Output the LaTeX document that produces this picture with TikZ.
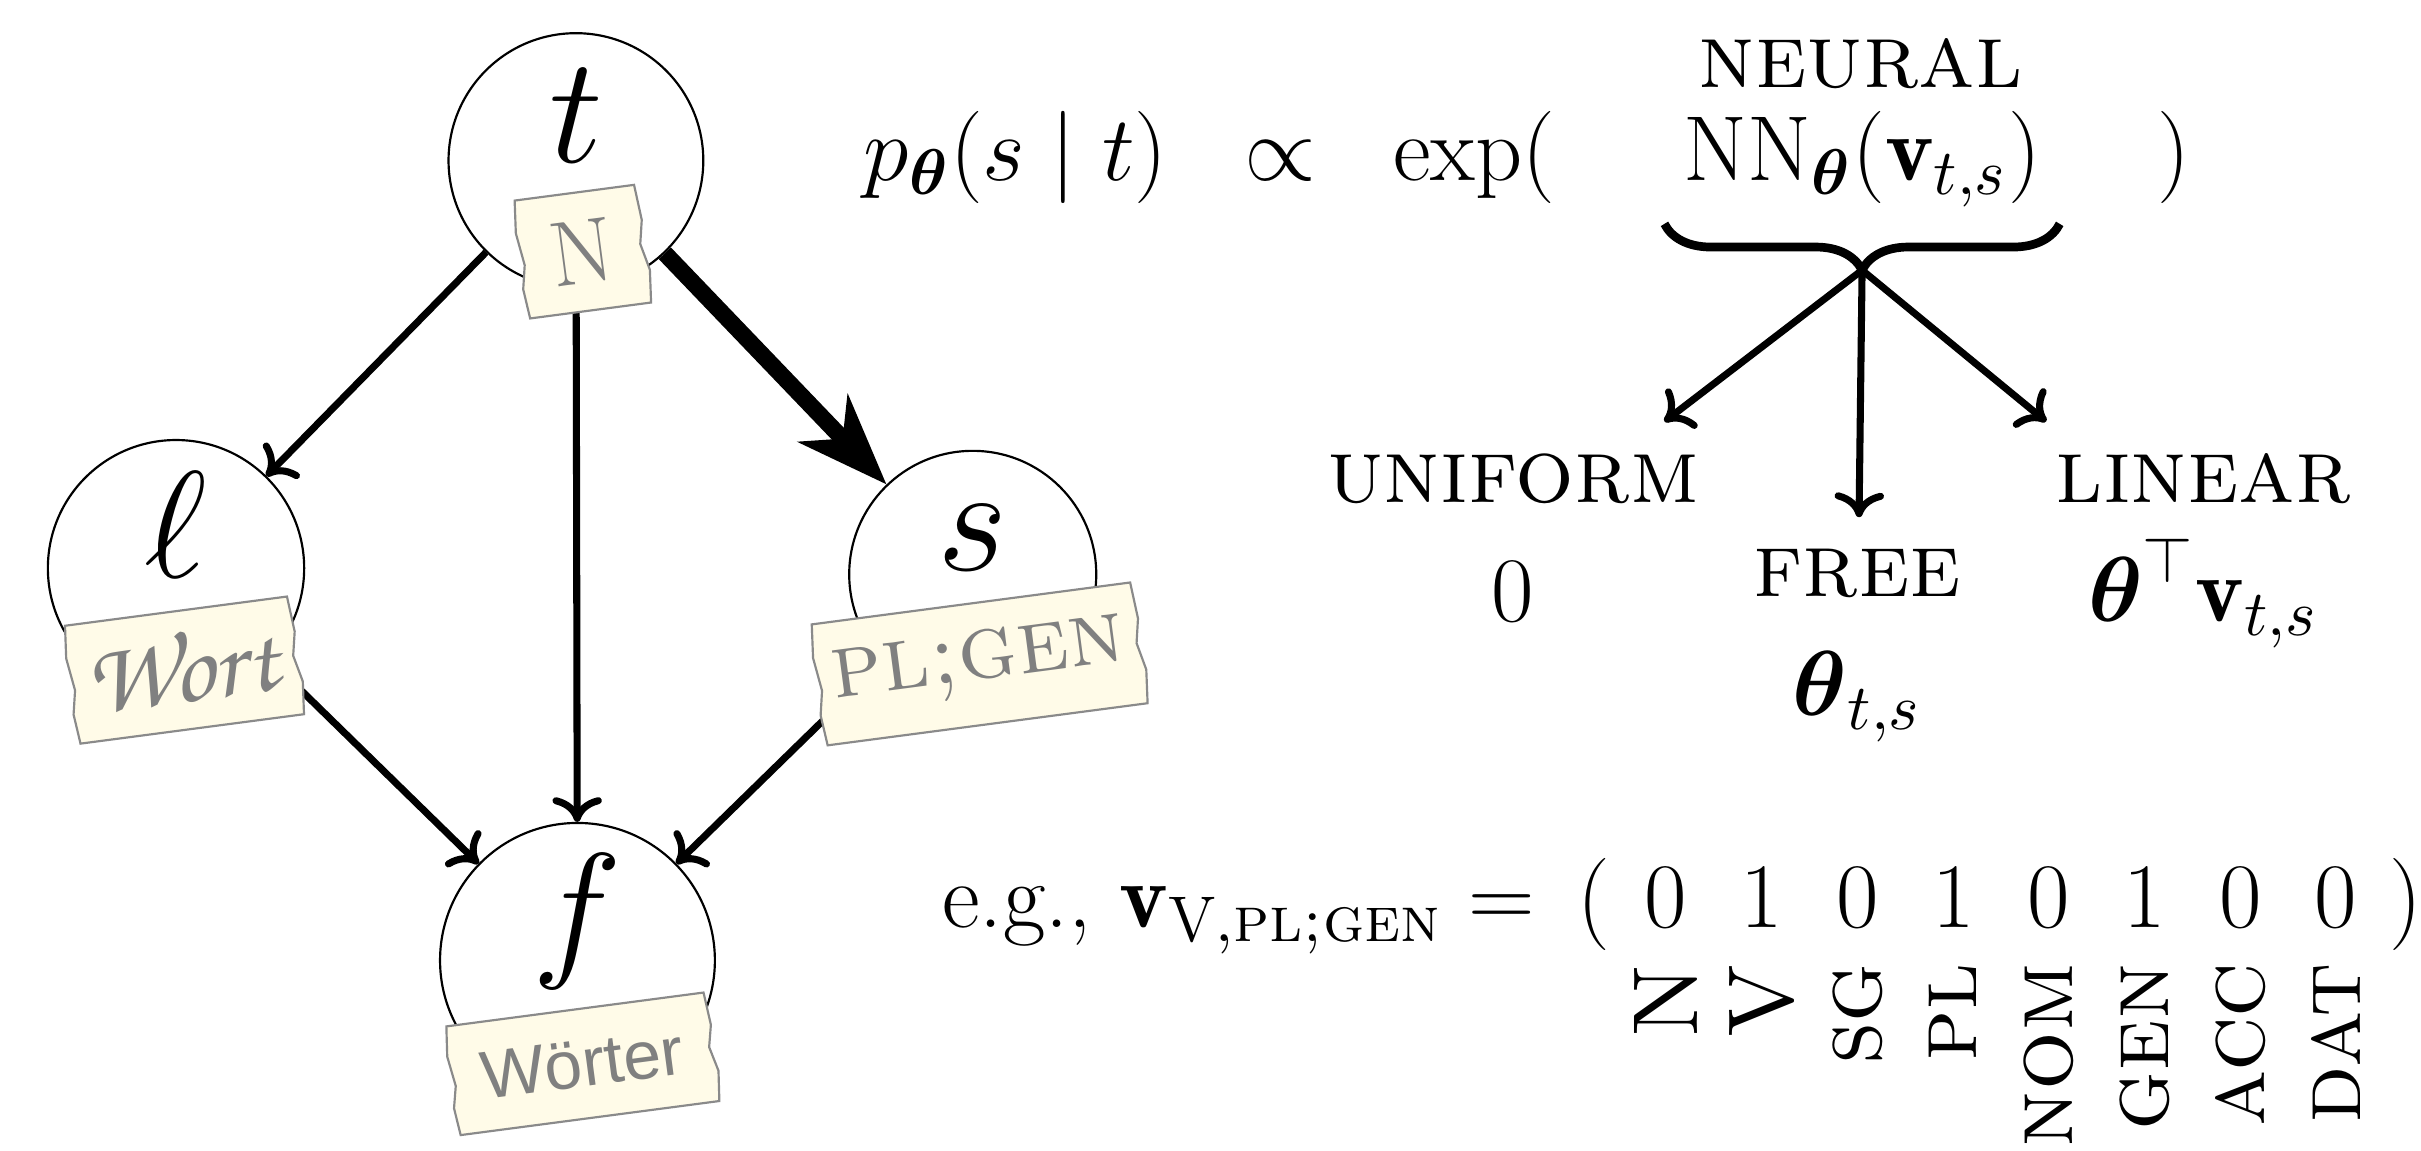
\RequirePackage{fix-cm}
\documentclass[tikz,border=0pt]{standalone}
\usepackage{amsmath}
\usepackage{fontspec}
\newfontfamily\wsans{Liberation Sans}
\newcommand\handfont{\itshape}
\IfFontExistsTF{TeX Gyre Chorus}
  {\newfontfamily\chorus{TeX Gyre Chorus}\renewcommand\handfont{\chorus}}{}
\usetikzlibrary{arrows.meta,decorations.pathreplacing,calc}

\definecolor{tapefill}{HTML}{FFFBE8}
\definecolor{tapeedge}{HTML}{8A8A8A}
\definecolor{taggray}{HTML}{808080}

\tikzset{
	pics/tape/.style 2 args={code={
		\draw[tapeline] (-#1,#2) -- (#1,#2) -- (#1+0.02,0.4*#2) -- (#1-0.01,0)
		-- (#1+0.03,-0.45*#2) -- (#1+0.01,-#2) -- (-#1,-#2) -- (-#1-0.02,-0.5*#2)
		-- (-#1+0.01,-0.1*#2) -- (-#1-0.02,0.45*#2) -- cycle;
	}},
}

\begin{document}
\begin{tikzpicture}[
	font=\fontsize{17}{22}\selectfont,
	var/.style={circle, draw, line width=0.4pt, minimum size=1.65cm, inner sep=0pt},
	letter/.style={font=\fontsize{28}{30}\selectfont, inner sep=0pt},
	arr/.style={line width=1.3pt, -{Computer Modern Rightarrow[length=1.6mm,width=3.2mm]}},
	bigarr/.style={line width=3.1pt, -{Stealth[length=5.9mm,width=4.4mm,inset=1.8mm]}},
	tapeline/.style={draw=tapeedge, fill=tapefill, line width=0.4pt},
	tagtext/.style={text=taggray, rotate=7.5, inner sep=0pt},
	choice/.style={align=center, inner sep=0.2cm, anchor=north},
	gloss/.style={rotate=90, anchor=east, font=\fontsize{17}{20}\selectfont, inner sep=0pt},
	brace/.style={decorate, decoration={brace, mirror, amplitude=0.3cm}, line width=1.6pt},
	]
	\useasboundingbox (0,0) rectangle (15.68,7.45);

	% Kreise
	\node[var] (t) at (3.73,6.41) {};
	\node[var, minimum size=1.66cm] (l) at (1.14,3.77) {};
	\node[var, minimum size=1.60cm] (s) at (6.30,3.73) {};
	\node[var, minimum size=1.78cm] (f) at (3.74,1.23) {};

	\node[letter] (t-l) at ([yshift=0.29cm]t.center) {$t$};
	\node[letter] (l-l) at ([yshift=0.28cm]l.center) {$\ell$};
	\node[letter] (s-l) at ([yshift=0.24cm]s.center) {$s$};
	\node[letter] (f-l) at ([yshift=0.25cm]f.center) {$f$};

	% Pfeile
	\draw[arr] (t) -- (l);
	\draw[arr] (t) -- (f);
	\draw[bigarr] (t) -- (s);
	\draw[arr] (l) -- (f);
	\draw[arr] (s) -- (f);

	% Klebeband
	\pic[rotate=7.5] at (3.77,5.82) {tape={0.39}{0.385}};
	\node[tagtext] (t-tag) at (3.77,5.82) {N};
	\pic[rotate=7.5] at (1.19,3.11) {tape={0.725}{0.385}};
	\node[tagtext, font=\fontsize{19}{21}\selectfont] (l-tag) at (1.17,3.12) {\handfont Wort};
	\pic[rotate=7.5] at (6.34,3.15) {tape={1.04}{0.395}};
	\node[tagtext] (s-tag) at (6.34,3.15) {\textsc{pl;gen}};
	\pic[rotate=7.5] at (3.77,0.56) {tape={0.84}{0.355}};
	\node[tagtext, font=\wsans\fontsize{12.5}{15}\selectfont] (f-tag) at (3.77,0.56) {Wörter};

	% Formel
	\node[anchor=base west] (lhs) at (5.47,6.28)
	{$p_{\boldsymbol{\theta}}(s \mid t) \;\;\propto\;\; \exp($};
	\node[anchor=base] (nn) at (12.06,6.28)
	{$\mathrm{NN}_{\boldsymbol{\theta}}(\mathbf{v}_{t,s})$};
	\node[anchor=base] (rp) at (14.08,6.28) {$)$};
	\node[anchor=base] (neural) at (12.05,6.88) {\textsc{neural}};

	\coordinate (bl) at (10.78,6.00);
	\coordinate (br) at (13.34,6.00);
	\draw[brace] (bl) -- (br);
	\coordinate (tip) at ($(bl)!0.5!(br)+(0,-0.30)$);

	\node[choice] (uniform) at (9.80,4.72) {\textsc{uniform}\\$0$};
	\node[choice] (free) at (12.03,4.10) {\textsc{free}\\$\boldsymbol{\theta}_{t,s}$};
	\node[choice] (linear) at (14.27,4.72)
	{\textsc{linear}\\$\boldsymbol{\theta}^{\top}\mathbf{v}_{t,s}$};

	\draw[arr] (tip) -- (uniform);
	\draw[arr] (tip) -- (free);
	\draw[arr] (tip) -- (linear);

	% Beispiel
	\node[anchor=base west] (eg) at (5.98,1.44)
	{e.g., $\mathbf{v}_{\mathrm{V},\textsc{pl;gen}} =$};
	\node[anchor=base] (lp) at (10.32,1.44) {(};
	\foreach \bit/\gl [count=\i] in {0/N,1/V,0/sg,1/pl,0/nom,1/gen,0/acc,0/dat}{
		\node[anchor=base] (d\i) at ({10.79+0.62*(\i-1)},1.44) {\bit};
		\node[gloss] (g\i) at ({10.79+0.62*(\i-1)},1.22) {\textsc{\gl}};
	}
	\node[anchor=base] (rpv) at (15.58,1.44) {)};

\end{tikzpicture}
\end{document}
